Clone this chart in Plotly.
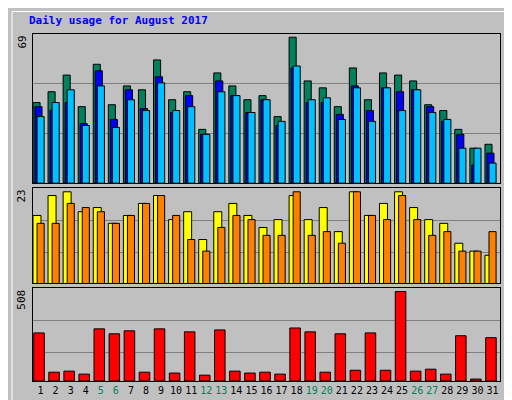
import plotly.graph_objects as go

days = list(range(1, 32))
weekend = [5, 6, 12, 13, 19, 20, 26, 27]
hits = [37.3,42.3,50,35.4,55,36.3,45,43.2,57,38.6,42.3,24.9,51,45,38.6,40.5,30.8,67.5,47.3,44.1,35.4,53.3,38.6,51,50,47.3,36.3,33.6,24.9,16.2,18]
files = [35.4,33.7,37.3,27.6,52,29.5,43.2,34.5,49.2,32.7,40.5,22.6,47.3,40.5,32.7,38.6,26.7,53.3,37.3,37.3,31.8,45,33.6,44.1,42.3,43.2,35.4,28.6,22.6,8.4,13.9]
pages = [30.8,37.3,43.2,26.7,45,25.8,38.6,33.6,46.4,33.6,35.4,22.6,42.3,40.5,32.7,38.6,28.6,54.2,38.6,39.5,29.5,44.1,28.6,44.1,33.6,43.2,32.7,29.5,16.2,16.2,9.3]
visits = [16.4,21.2,22.1,17.3,18.3,14.5,16.4,19.3,21.2,15.4,17.3,10.6,17.3,19.3,16.4,13.5,15.4,21.2,15.4,18.3,12.5,22.1,16.4,19.3,22.1,18.3,15.4,14.5,9.7,7.8,6.8]
sites = [14.5,14.5,19.3,18.3,17.3,14.5,16.4,19.3,21.2,16.4,10.6,7.8,13.5,16.4,15.4,11.6,11.6,22.1,11.6,12.5,9.7,22.1,16.4,15.4,21.2,15.4,11.6,12.5,7.8,7.8,12.5]
kbytes = [273,50,56,39,296,268,285,50,296,45,279,33,290,56,45,50,39,301,279,50,268,61,273,61,508,56,67,39,257,11,246]

title = "Daily usage for August 2017"
font = "DejaVu Sans Mono"
line = dict(color="black", width=1)

fig = go.Figure()
def bar(y, color, off, w, ax):
    fig.add_trace(go.Bar(x=days, y=y, marker=dict(color=color, line=line),
                         offset=off, width=w, xaxis=ax[0], yaxis=ax[1], showlegend=False))

bar(hits, "#00805c", -0.5, 0.47, ("x", "y"))
bar(files, "#0000ff", -0.37, 0.47, ("x", "y"))
bar(pages, "#00c0ff", -0.23, 0.47, ("x", "y"))
bar(visits, "#ffff00", -0.5, 0.53, ("x2", "y2"))
bar(sites, "#ff8000", -0.23, 0.47, ("x2", "y2"))
bar(kbytes, "#ff0000", -0.45, 0.7, ("x3", "y3"))

ticktext = [f"<span style='color:#00805c'>{d}</span>" if d in weekend else str(d) for d in days]
xcommon = dict(range=[0.5, 31.5], showline=True, mirror=True, linecolor="black",
               linewidth=1, showgrid=False, zeroline=False, fixedrange=True)
fig.update_layout(
    width=512, height=400, paper_bgcolor="#c0c0c0", plot_bgcolor="#c0c0c0",
    margin=dict(l=25, r=20, t=26, b=25), barmode="overlay",
    font=dict(family=font, size=11, color="black"),
    xaxis=dict(xcommon, anchor="y", showticklabels=False, ticks=""),
    xaxis2=dict(xcommon, anchor="y2", showticklabels=False, ticks=""),
    xaxis3=dict(xcommon, anchor="y3", tickvals=days, ticktext=ticktext, ticks="",
                tickangle=0, tickfont=dict(size=10)),
)
ycommon = dict(showline=True, mirror=True, linecolor="black", linewidth=1,
               gridcolor="#808080", zeroline=False, showticklabels=False, ticks="")
fig.update_layout(
    yaxis=dict(ycommon, domain=[0.57, 1], range=[0, 69], tickvals=[23, 46]),
    yaxis2=dict(ycommon, domain=[0.281, 0.556], range=[0, 23], tickvals=[7.5, 15.2]),
    yaxis3=dict(ycommon, domain=[0, 0.269], range=[0, 530], tickvals=[162, 346]),
)
rf = dict(size=10)
ann = [
    dict(x=0, y=1, xref="paper", yref="paper", xshift=-6, yshift=22, text="<b>"+title+"</b>",
         showarrow=False, xanchor="left", yanchor="top", font=dict(color="#0000ff", size=11)),
    dict(x=0, y=1, xref="paper", yref="paper", xshift=-11, text="69", textangle=-90,
         showarrow=False, xanchor="center", yanchor="top"),
    dict(x=0, y=0.556, xref="paper", yref="paper", xshift=-11, text="23", textangle=-90,
         showarrow=False, xanchor="center", yanchor="top"),
    dict(x=0, y=0.269, xref="paper", yref="paper", xshift=-11, text="508", textangle=-90,
         showarrow=False, xanchor="center", yanchor="top"),
    dict(x=1, y=1, xref="paper", yref="paper", xshift=9, textangle=-90, font=rf,
         text="<span style='color:#00c0ff'>Pages</span> / <span style='color:#0000ff'>Files</span> / <span style='color:#00805c'>Hits</span>",
         showarrow=False, xanchor="center", yanchor="top"),
    dict(x=1, y=0.556, xref="paper", yref="paper", xshift=9, textangle=-90, font=rf,
         text="<span style='color:#ff8000'>Sites</span> / <span style='color:#ffff00'>Visits</span>",
         showarrow=False, xanchor="center", yanchor="top"),
    dict(x=1, y=0, xref="paper", yref="paper", xshift=9, textangle=-90, font=rf,
         text="<span style='color:#ff0000'>KBytes</span>",
         showarrow=False, xanchor="center", yanchor="bottom"),
]
fig.update_layout(annotations=ann)
shapes = [
    dict(type="rect", xref="paper", yref="paper", x0=-0.045, x1=1.036, y0=-0.063, y1=1.065,
         line=dict(color="white", width=1)),
    dict(type="line", xref="paper", yref="paper", x0=-0.045, x1=1.036, y0=-0.063, y1=-0.063,
         line=dict(color="#808080", width=1)),
    dict(type="line", xref="paper", yref="paper", x0=1.036, x1=1.036, y0=-0.063, y1=1.065,
         line=dict(color="#808080", width=1)),
]
fig.update_layout(shapes=shapes)
fig.write_html("out.html")
